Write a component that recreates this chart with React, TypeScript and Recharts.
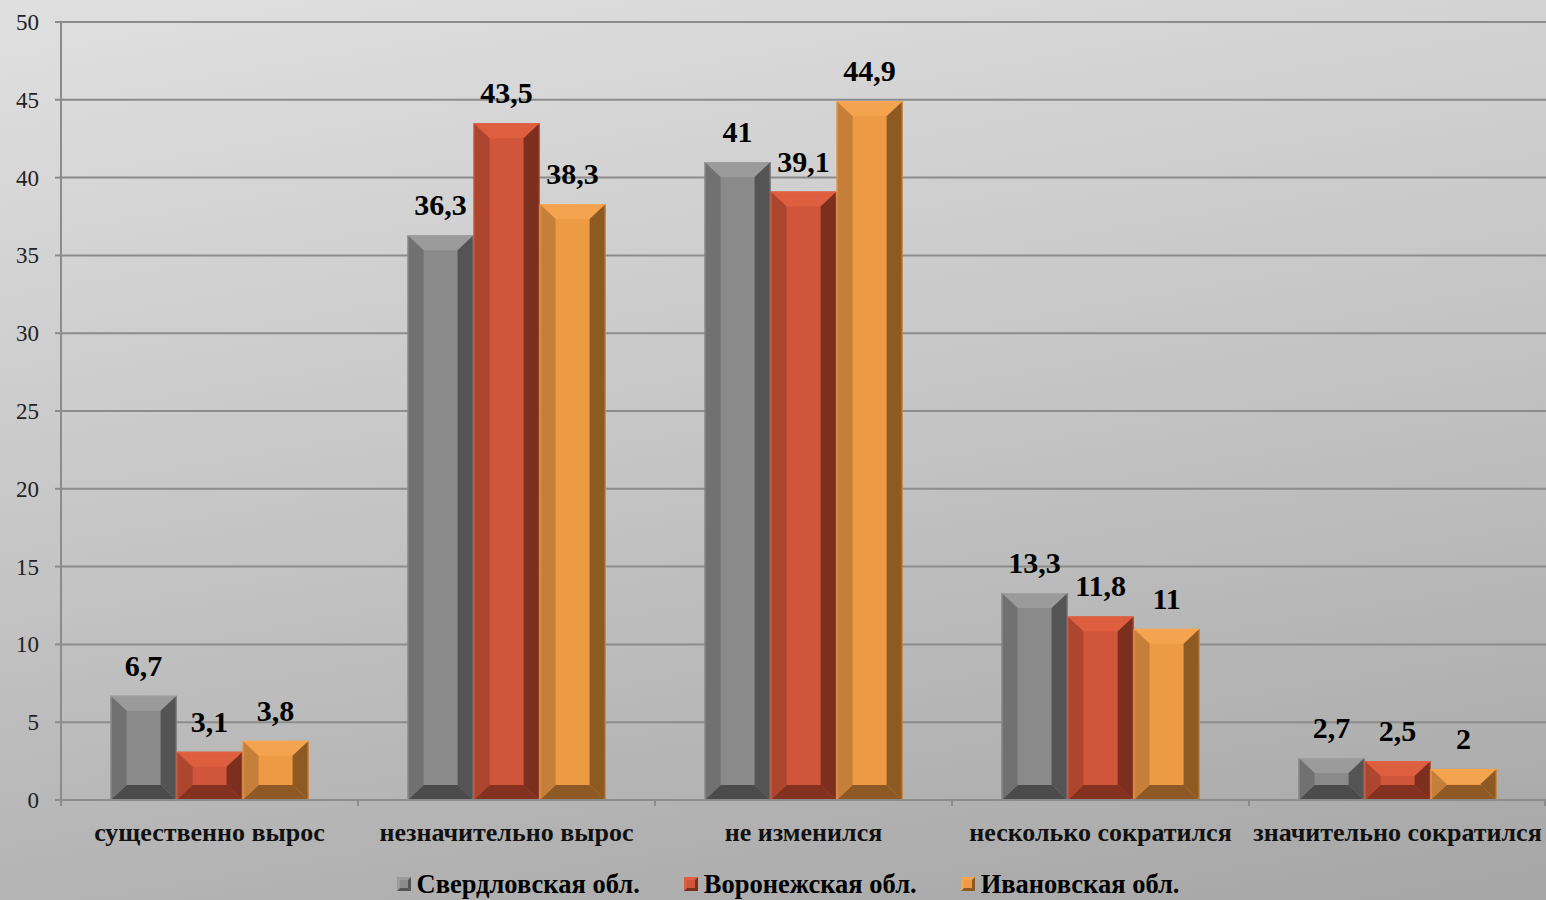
import React from 'react';
import { BarChart, Bar, XAxis, YAxis, CartesianGrid, Legend, LabelList } from 'recharts';

// Изменение показателя по регионам, % ответивших
const categories = [
  'существенно вырос',
  'незначительно вырос',
  'не изменился',
  'несколько сократился',
  'значительно сократился',
];
const sverdlovsk = [6.7, 36.3, 41, 13.3, 2.7];
const voronezh = [3.1, 43.5, 39.1, 11.8, 2.5];
const ivanovo = [3.8, 38.3, 44.9, 11, 2];
const seriesNames = ['Свердловская обл.', 'Воронежская обл.', 'Ивановская обл.'];
const yTicks = [0, 5, 10, 15, 20, 25, 30, 35, 40, 45, 50];

const data = categories.map((name, i) => ({
  name,
  sv: sverdlovsk[i],
  vr: voronezh[i],
  iv: ivanovo[i],
}));

const WIDTH = 1546;
const HEIGHT = 900;
const Y_AXIS_W = 61;
const BAND = (WIDTH - Y_AXIS_W) / categories.length;
const FONT = '"Liberation Serif", "Times New Roman", serif';
const GRID = '#8c8c8c';

interface Tone {
  face: string;
  top: string;
  left: string;
  right: string;
  bottom: string;
  edge: string;
}

const TONES: Record<string, Tone> = {
  sv: { face: '#8a8a8a', top: '#9b9b9b', left: '#717171', right: '#545454', bottom: '#4b4b4b', edge: '#a4a4a4' },
  vr: { face: '#d1553a', top: '#de5e40', left: '#ae452e', right: '#7c2f1f', bottom: '#84311f', edge: '#e2684a' },
  iv: { face: '#ed9a45', top: '#f4a34e', left: '#c57f3a', right: '#8d5a23', bottom: '#8e5924', edge: '#f6ad5c' },
};
const KEYS = ['sv', 'vr', 'iv'];

// bar with bevelled edges, like an Excel "relief" fill
const BevelBar = (props: any) => {
  const { x, y, width: w, height: h, tone } = props;
  if (!h || h <= 0) return null;
  const bw = Math.min(16, w / 4);
  const bh = Math.min(15, h / 2);
  const pts = (arr: number[][]) => arr.map((p) => p.join(',')).join(' ');
  return (
    <g>
      <rect x={x} y={y} width={w} height={h} fill={tone.face} />
      <polygon points={pts([[x, y], [x + w, y], [x + w - bw, y + bh], [x + bw, y + bh]])} fill={tone.top} />
      <polygon points={pts([[x, y + h], [x + w, y + h], [x + w - bw, y + h - bh], [x + bw, y + h - bh]])} fill={tone.bottom} />
      <polygon points={pts([[x, y], [x + bw, y + bh], [x + bw, y + h - bh], [x, y + h]])} fill={tone.left} />
      <polygon points={pts([[x + w, y], [x + w - bw, y + bh], [x + w - bw, y + h - bh], [x + w, y + h]])} fill={tone.right} />
      <rect x={x + 0.5} y={y + 0.5} width={w - 1} height={h - 1} fill="none" stroke={tone.edge} strokeOpacity={0.6} />
    </g>
  );
};

// category label plus tick marks on the band boundaries
const CategoryTick = (props: any) => {
  const { x, y, payload, index } = props;
  const left = x - BAND / 2;
  const right = x + BAND / 2;
  return (
    <g>
      <line x1={left} x2={left} y1={y} y2={y + 6} stroke={GRID} strokeWidth={2} />
      {index === categories.length - 1 && (
        <line x1={right - 1} x2={right - 1} y1={y} y2={y + 6} stroke={GRID} strokeWidth={2} />
      )}
      <text x={x} y={y + 41} textAnchor="middle" fontFamily={FONT} fontWeight="bold" fontSize={26} fill="#111">
        {payload.value}
      </text>
    </g>
  );
};

const ValueTick = (props: any) => {
  const { x, y, payload } = props;
  return (
    <text x={x} y={y + 8} textAnchor="end" fontFamily={FONT} fontSize={23} fill="#222">
      {payload.value}
    </text>
  );
};

const ValueLabel = (props: any) => {
  const { x, y, width, value } = props;
  return (
    <text x={x + width / 2} y={y - 20} textAnchor="middle" fontFamily={FONT} fontWeight="bold" fontSize={30} fill="#000">
      {String(value).replace('.', ',')}
    </text>
  );
};

const LegendRow = () => (
  <div
    style={{
      display: 'flex',
      justifyContent: 'center',
      gap: 44,
      height: 32,
      lineHeight: '32px',
      paddingLeft: 30,
      fontFamily: FONT,
      fontWeight: 'bold',
      fontSize: 26.5,
      color: '#000',
    }}
  >
    {seriesNames.map((n, i) => {
      const t = TONES[KEYS[i]];
      return (
        <span key={n} style={{ display: 'inline-flex', alignItems: 'center', gap: 6 }}>
          <svg width={14} height={14}>
            <polygon points="0,0 14,0 0,14" fill={t.top} />
            <polygon points="14,0 14,14 0,14" fill={t.right} />
            <rect x={3} y={3} width={8} height={8} fill={t.face} />
          </svg>
          {n}
        </span>
      );
    })}
  </div>
);

export default function App() {
  return (
    <div
      style={{
        position: 'absolute',
        left: 0,
        top: 0,
        width: WIDTH,
        height: HEIGHT,
        fontFamily: FONT,
        background: 'linear-gradient(170deg, #e0e0e0 0%, #c4c4c4 50%, #a6a6a6 100%)',
      }}
    >
      <BarChart
        width={WIDTH}
        height={HEIGHT}
        data={data}
        margin={{ top: 22, right: 0, bottom: 0, left: 0 }}
        barCategoryGap="16.7%"
        barGap={0}
      >
        <CartesianGrid vertical={false} stroke={GRID} strokeWidth={2} />
        <XAxis
          dataKey="name"
          height={68}
          axisLine={{ stroke: GRID, strokeWidth: 2 }}
          tickLine={false}
          tickSize={0}
          tickMargin={0}
          interval={0}
          tick={<CategoryTick />}
        />
        <YAxis
          width={Y_AXIS_W}
          domain={[0, 50]}
          ticks={yTicks}
          interval={0}
          axisLine={{ stroke: GRID, strokeWidth: 2 }}
          tickLine={{ stroke: GRID, strokeWidth: 2 }}
          tickSize={6}
          tickMargin={16}
          tick={<ValueTick />}
        />
        <Legend verticalAlign="bottom" height={32} content={<LegendRow />} />
        {KEYS.map((k, i) => (
          <Bar
            key={k}
            dataKey={k}
            name={seriesNames[i]}
            fill={TONES[k].face}
            isAnimationActive={false}
            shape={(p: any) => <BevelBar {...p} tone={TONES[k]} />}
          >
            <LabelList dataKey={k} content={<ValueLabel />} />
          </Bar>
        ))}
      </BarChart>
    </div>
  );
}
